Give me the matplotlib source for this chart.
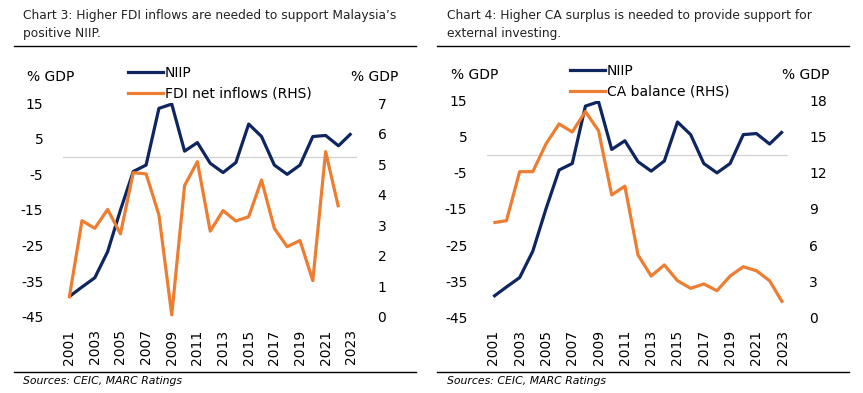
import matplotlib
matplotlib.use('Agg')
import matplotlib.pyplot as plt
from matplotlib.lines import Line2D
import numpy as np

years = list(range(2001, 2024))

# NIIP, % GDP (both charts)
niip = [-39.3, -36.6, -34.0, -26.7, -15.0, -4.2, -2.4, 13.5, 14.7, 1.5, 3.9, -1.9,
        -4.5, -1.7, 9.1, 5.6, -2.4, -5.0, -2.4, 5.6, 5.9, 3.0, 6.5]

# FDI net inflows, % GDP (RHS, to 2022)
fdi_years = list(range(2001, 2023))
fdi = [0.61, 3.15, 2.9, 3.52, 2.72, 4.72, 4.68, 3.34, 0.07, 4.3, 5.08, 2.81,
       3.48, 3.14, 3.28, 4.48, 2.9, 2.3, 2.5, 1.19, 5.41, 3.59]

# CA balance, % GDP (RHS)
ca = [7.86, 8.03, 12.1, 12.1, 14.4, 16.07, 15.4, 17.1, 15.5, 10.17, 10.9, 5.18,
      3.43, 4.35, 3.04, 2.41, 2.77, 2.21, 3.43, 4.2, 3.87, 3.04, 1.21]

navy = '#0E2560'
orange = '#ED7D31'
fs = 10
plt.rcParams['font.family'] = ['DejaVu Sans']
plt.rcParams['axes.unicode_minus'] = False

fig = plt.figure(figsize=(8.63, 3.93), dpi=100)


def draw_panel(rect, rhs_x, rhs_y, rhs_lim, rhs_ticks, rhs_name, leg_x, leg_y):
    ax = fig.add_axes(rect)
    ax2 = ax.twinx()
    ax.plot(years, niip, color=navy, lw=2.3, solid_capstyle='butt', zorder=3)
    ax2.plot(rhs_x, rhs_y, color=orange, lw=2.3, solid_capstyle='butt')
    ax.axhline(0, color='#D0D0D0', lw=0.9, zorder=1)
    ax.set_xlim(2000.5, 2023.42)
    ax.set_ylim(-45, 15)
    ax.set_yticks([15, 5, -5, -15, -25, -35, -45])
    ax2.set_ylim(*rhs_lim)
    ax2.set_yticks(rhs_ticks)
    ax.set_xticks(list(range(2001, 2024, 2)))
    ax.set_xticklabels([str(y) for y in range(2001, 2024, 2)], rotation=90)
    for a in (ax, ax2):
        for s in a.spines.values():
            s.set_visible(False)
        a.tick_params(length=0, labelsize=fs)
    ax.tick_params(axis='y', pad=14)
    ax.tick_params(axis='x', pad=9)
    ax2.tick_params(axis='y', pad=15)
    ax.text(-0.12, 1.12, '% GDP', transform=ax.transAxes, fontsize=fs, ha='left', va='center')
    ax.text(0.98, 1.12, '% GDP', transform=ax.transAxes, fontsize=fs, ha='left', va='center')
    handles = [Line2D([], [], color=navy, lw=2.3), Line2D([], [], color=orange, lw=2.3)]
    ax2.legend(handles, ['NIIP', rhs_name], loc='upper left', frameon=False,
               bbox_to_anchor=(leg_x, leg_y), fontsize=fs, handlelength=2.5,
               handletextpad=0.15, labelspacing=0.5, borderaxespad=0)
    return ax, ax2


draw_panel([0.0727, 0.1934, 0.3406, 0.5445], fdi_years, fdi, (0, 7), range(0, 8),
           'FDI net inflows (RHS)', 0.204, 1.20)
draw_panel([0.564, 0.1926, 0.3494, 0.5512], years, ca, (0, 18), range(0, 19, 3),
           'CA balance (RHS)', 0.258, 1.196)

# titles and rules
fig.text(23 / 863, 1 - 9 / 393, 'Chart 3: Higher FDI inflows are needed to support Malaysia’s\npositive NIIP.',
         fontsize=8.8, va='top', ha='left', linespacing=1.5, color='#222222')
fig.text(447 / 863, 1 - 9 / 393, 'Chart 4: Higher CA surplus is needed to provide support for\nexternal investing.',
         fontsize=8.8, va='top', ha='left', linespacing=1.5, color='#222222')
for x0, x1 in [(14, 416), (437, 849)]:
    fig.add_artist(Line2D([x0 / 863, x1 / 863], [1 - 46 / 393] * 2, color='black', lw=1))
    fig.add_artist(Line2D([x0 / 863, x1 / 863], [1 - 372 / 393] * 2, color='black', lw=1))
fig.text(23 / 863, 1 - 381 / 393, 'Sources: CEIC, MARC Ratings', fontsize=7.8, style='italic', va='center')
fig.text(447 / 863, 1 - 381 / 393, 'Sources: CEIC, MARC Ratings', fontsize=7.8, style='italic', va='center')

fig.savefig('out.png', dpi=100)
